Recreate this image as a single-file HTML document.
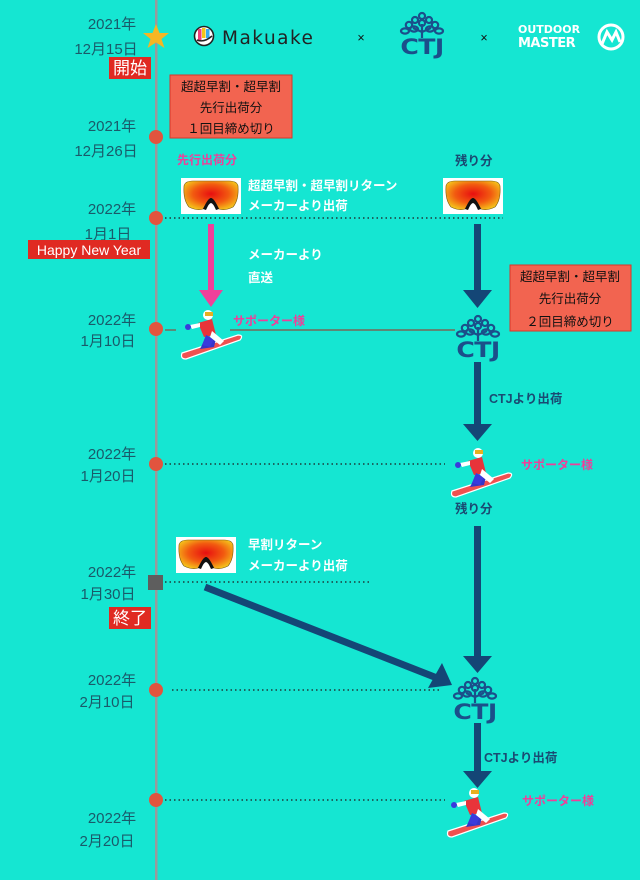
<!DOCTYPE html>
<html><head><meta charset="utf-8"><style>
html,body{margin:0;padding:0;}
body{width:640px;height:880px;background:#15e6d2;overflow:hidden;}
svg{display:block;}
text{font-family:"Liberation Sans","Noto Sans CJK JP",sans-serif;}
.d{fill:#1a5a6a;font-size:15px;text-anchor:middle;}
.w{fill:#fff;font-size:12.5px;font-weight:bold;}
.n{fill:#1a4a72;font-size:12.5px;font-weight:bold;}
.p{fill:#ee3f9a;font-size:12px;font-weight:bold;}
.r{fill:#111;font-size:12.5px;text-anchor:middle;}
</style></head><body>
<svg width="640" height="880" viewBox="0 0 640 880" xmlns="http://www.w3.org/2000/svg">
<defs>
 <radialGradient id="gg" cx="0.5" cy="0.45" r="0.6"><stop offset="0" stop-color="#e80f10"/><stop offset="0.55" stop-color="#f25a10"/><stop offset="1" stop-color="#f5c51b"/></radialGradient>
 <g id="gog">
  <rect x="0" y="0" width="60" height="36" fill="#fff"/>
  <path d="M3,8 Q4,3 12,3 L48,3 Q56,3 57,8 Q58,22 52,29 Q44,33 38,31 Q33,23 30,23 Q27,23 22,31 Q16,33 8,29 Q2,22 3,8 Z" fill="url(#gg)" stroke="#7a5a10" stroke-width="0.6"/>
  <path d="M22,31 Q27,20 30,20 Q33,20 38,31 L35,32 Q32,25 30,25 Q28,25 25,32 Z" fill="#111"/>
 </g>
 <g id="sb">
  <path d="M2,44 L58,26 Q64,26 60,31 L6,50 Q0,50 2,44 Z" fill="#f05050" stroke="#fff" stroke-width="1.2"/>
  <path d="M20,40 L26,28 L36,30 L34,38 Z" fill="#3535c8"/>
  <path d="M18,14 L32,10 L36,26 L24,28 Z" fill="#e8343a"/>
  <path d="M26,26 L22,36 L30,38 L34,30 Z" fill="#3a3adc"/>
  <path d="M32,22 L44,32 L40,36 L30,28 Z" fill="#fff"/>
  <path d="M10,16 L20,14 L20,18 L12,20 Z" fill="#fff"/>
  <circle cx="8" cy="18" r="3" fill="#3a3adc"/>
  <circle cx="28" cy="6" r="5" fill="#fff"/>
  <rect x="25" y="3" width="8" height="4" fill="#e6b020"/>
 </g>
 <g id="ctj">
  <g fill="none" stroke="#1b4f8a" stroke-width="2.2">
   <circle cx="23" cy="4" r="3"/><circle cx="16" cy="8" r="3"/><circle cx="30" cy="8" r="3"/>
   <circle cx="10" cy="13" r="3.2"/><circle cx="23" cy="11" r="3"/><circle cx="36" cy="13" r="3.2"/>
   <ellipse cx="6" cy="19" rx="4" ry="2.6"/><ellipse cx="40" cy="19" rx="4" ry="2.6"/>
   <ellipse cx="15" cy="17" rx="4" ry="2.6"/><ellipse cx="31" cy="17" rx="4" ry="2.6"/>
   <path d="M23,12 L23,26 M23,20 L14,16 M23,20 L32,16"/>
  </g>
  <text x="23" y="42" text-anchor="middle" transform="translate(23,0) scale(1.2,1) translate(-23,0)" style="font-family:'DejaVu Sans',sans-serif;font-weight:bold;font-size:21px;fill:#1b4f8a;letter-spacing:-0.5px">CTJ</text>
 </g>
</defs>

<rect x="155" y="0" width="2.5" height="880" fill="#9a9a9a"/>

<polygon points="156,24 159.5,33 169,33 161.5,39 164.5,48 156,42.5 147.5,48 150.5,39 143,33 152.5,33" fill="#f5b623"/>
<text class="d" x="112" y="29">2021年</text>
<text class="d" x="106" y="54">12月15日</text>
<rect x="109" y="57" width="42" height="22" fill="#e02a22"/>
<text x="130" y="74" text-anchor="middle" fill="#fff" font-size="17">開始</text>

<g transform="translate(194,26)">
 <circle cx="10" cy="10" r="9.5" fill="#fff" stroke="#222" stroke-width="1.6"/>
 <rect x="4" y="3" width="3.5" height="11" fill="#f03d7a"/><rect x="8" y="2" width="3.5" height="10" fill="#f5c518"/><rect x="12" y="3" width="3.5" height="9" fill="#3aa9f0"/>
 <path d="M3,14 Q10,17 18,10" stroke="#222" stroke-width="1.5" fill="none"/>
</g>
<text x="222" y="44" font-size="18.5" fill="#222" letter-spacing="1.5" style="font-family:'DejaVu Sans',sans-serif">Makuake</text>
<text class="r" x="361" y="42" font-size="15">×</text>
<use href="#ctj" x="399" y="12" />
<text class="r" x="484" y="42" font-size="15">×</text>
<text x="518" y="33" fill="#fff" font-size="11" font-weight="bold" style="font-family:'DejaVu Sans',sans-serif">OUTDOOR</text>
<text x="518" y="47" fill="#fff" font-size="13" font-weight="bold" style="font-family:'DejaVu Sans',sans-serif;letter-spacing:-0.5px">MASTER</text>
<circle cx="611" cy="37" r="12" fill="none" stroke="#fff" stroke-width="3"/>
<path d="M602,44 L607,32 L612,40 L616,32 L620,42" fill="none" stroke="#fff" stroke-width="3"/>

<rect x="170" y="75" width="122" height="63" fill="#f26450" stroke="#d8362a" stroke-width="1"/>
<text class="r" x="231" y="91">超超早割・超早割</text>
<text class="r" x="231" y="112">先行出荷分</text>
<text class="r" x="231" y="133">１回目締め切り</text>
<text class="d" x="112" y="131">2021年</text>
<text class="d" x="106" y="156">12月26日</text>
<circle cx="156" cy="137" r="7" fill="#e2543e"/>

<text class="p" x="177" y="164">先行出荷分</text>
<text class="n" x="455" y="165">残り分</text>
<use href="#gog" x="181" y="178"/>
<use href="#gog" x="443" y="178"/>
<text class="w" x="248" y="190">超超早割・超早割リターン</text>
<text class="w" x="248" y="210">メーカーより出荷</text>

<line x1="165" y1="218" x2="503" y2="218" stroke="#1d3a3a" stroke-width="1.5" stroke-dasharray="1.5,3"/>
<circle cx="156" cy="218" r="7" fill="#e2543e"/>
<text class="d" x="112" y="214">2022年</text>
<text class="d" x="108" y="239">1月1日</text>
<rect x="28" y="240" width="122" height="19" fill="#e02a22"/>
<text x="89" y="255" text-anchor="middle" fill="#fff" font-size="14">Happy New Year</text>

<rect x="208" y="224" width="6" height="68" fill="#f0409a"/>
<polygon points="199,290 223,290 211,307" fill="#f0409a"/>
<text class="w" x="248" y="259">メーカーより</text>
<text class="w" x="248" y="282">直送</text>

<rect x="474" y="224" width="7" height="68" fill="#144676"/>
<polygon points="463,290 492,290 477.5,308" fill="#144676"/>

<rect x="510" y="265" width="121" height="66" fill="#f26450" stroke="#d8362a" stroke-width="1"/>
<text class="r" x="570" y="281">超超早割・超早割</text>
<text class="r" x="570" y="303">先行出荷分</text>
<text class="r" x="570" y="326">２回目締め切り</text>

<line x1="230" y1="330" x2="455" y2="330" stroke="#8a5040" stroke-width="1.2"/>
<line x1="165" y1="330" x2="176" y2="330" stroke="#8a5040" stroke-width="1.2"/>
<circle cx="156" cy="329" r="7" fill="#e2543e"/>
<text class="d" x="112" y="325">2022年</text>
<text class="d" x="108" y="346">1月10日</text>
<use href="#sb" x="180" y="309"/>
<text class="p" x="233" y="325">サポーター様</text>
<use href="#ctj" x="455" y="315"/>

<rect x="474" y="362" width="7" height="64" fill="#144676"/>
<polygon points="463,424 492,424 477.5,441" fill="#144676"/>
<text class="n" x="489" y="403">CTJより出荷</text>

<line x1="165" y1="464" x2="445" y2="464" stroke="#1d3a3a" stroke-width="1.5" stroke-dasharray="1.5,3"/>
<circle cx="156" cy="464" r="7" fill="#e2543e"/>
<text class="d" x="112" y="459">2022年</text>
<text class="d" x="108" y="481">1月20日</text>
<use href="#sb" x="450" y="447"/>
<text class="p" x="521" y="469">サポーター様</text>
<text class="n" x="455" y="513">残り分</text>

<rect x="474" y="526" width="7" height="132" fill="#144676"/>
<polygon points="463,656 492,656 477.5,673" fill="#144676"/>

<use href="#gog" x="176" y="537"/>
<text class="w" x="248" y="549">早割リターン</text>
<text class="w" x="248" y="570">メーカーより出荷</text>
<line x1="165" y1="582" x2="370" y2="582" stroke="#1d3a3a" stroke-width="1.5" stroke-dasharray="1.5,3"/>
<rect x="148" y="575" width="15" height="15" fill="#5e5e5e"/>
<text class="d" x="112" y="577">2022年</text>
<text class="d" x="108" y="599">1月30日</text>
<rect x="109" y="607" width="42" height="22" fill="#e02a22"/>
<text x="130" y="624" text-anchor="middle" fill="#fff" font-size="17">終了</text>
<line x1="205" y1="587" x2="437" y2="678" stroke="#144676" stroke-width="7"/>
<polygon points="442,663 452,685 428,688" fill="#144676"/>

<line x1="172" y1="690" x2="442" y2="690" stroke="#1d3a3a" stroke-width="1.5" stroke-dasharray="1.5,3"/>
<circle cx="156" cy="690" r="7" fill="#e2543e"/>
<text class="d" x="112" y="685">2022年</text>
<text class="d" x="107" y="707">2月10日</text>
<use href="#ctj" x="452" y="677"/>

<rect x="474" y="723" width="7" height="50" fill="#144676"/>
<polygon points="463,771 492,771 477.5,788" fill="#144676"/>
<text class="n" x="484" y="762">CTJより出荷</text>

<line x1="165" y1="800" x2="445" y2="800" stroke="#1d3a3a" stroke-width="1.5" stroke-dasharray="1.5,3"/>
<circle cx="156" cy="800" r="7" fill="#e2543e"/>
<use href="#sb" x="446" y="787"/>
<text class="p" x="522" y="805">サポーター様</text>
<text class="d" x="112" y="823">2022年</text>
<text class="d" x="107" y="846">2月20日</text>
</svg>
</body></html>
